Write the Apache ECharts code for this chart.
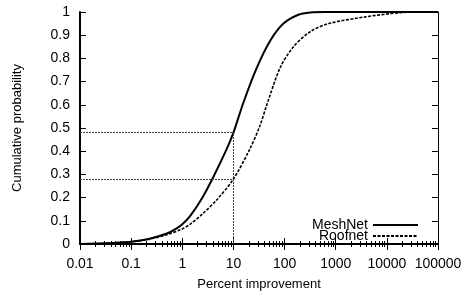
<!DOCTYPE html>
<html lang="en">
  <head>
    <meta charset="UTF-8" />
    <title>CDF of percent improvement</title>
    <script src="https://cdn.jsdelivr.net/npm/echarts@6/dist/echarts.min.js"></script>
  </head>
  <body style="margin: 0">
    <div id="chart" style="width: 471px; height: 296px"></div>
  </body>
  <script>
    // curves: [percent improvement, cumulative probability]
    let meshNet = [
      [0.01, 0], [0.03, 0.003], [0.1, 0.01], [0.23, 0.023], [0.5, 0.045],
      [0.75, 0.065], [1, 0.085], [1.42, 0.12], [2.4, 0.195], [4.07, 0.29],
      [7.4, 0.41], [10, 0.48], [15.7, 0.61], [28.7, 0.76], [52, 0.875],
      [95, 0.95], [186, 0.988], [320, 0.998], [600, 1], [100000, 1],
    ];
    let roofNet = [
      [0.01, 0], [0.03, 0.003], [0.1, 0.01], [0.23, 0.021], [0.5, 0.04],
      [1, 0.065], [1.42, 0.085], [2.5, 0.13], [4.7, 0.19], [10, 0.28],
      [21, 0.41], [33, 0.51], [45, 0.6], [82, 0.76], [149, 0.85],
      [316, 0.915], [725, 0.95], [4070, 0.98], [18000, 0.997], [40000, 1],
      [100000, 1],
    ];
    // dotted guide lines at 10 %
    let guideX = 10;
    let guideY = [0.48, 0.28];
    let xMin = 0.01, xMax = 100000;

    let font = "Liberation Sans";
    let guides = guideY.map((y) => [{ coord: [xMin, y] }, { coord: [guideX, y] }]);
    guides.push([{ coord: [guideX, 0] }, { coord: [guideX, Math.max(...guideY)] }]);

    let xBase = {
      type: "log",
      logBase: 10,
      min: xMin,
      max: xMax,
      splitLine: { show: false },
      axisTick: { inside: true, length: 6, lineStyle: { color: "#000" } },
      minorTick: { show: true, splitNumber: 9, length: 3, lineStyle: { color: "#000" } },
    };
    let yBase = {
      type: "value",
      min: 0,
      max: 1,
      interval: 0.1,
      splitLine: { show: false },
      axisTick: { inside: true, length: 6, lineStyle: { color: "#000" } },
    };

    let chart = echarts.init(document.getElementById("chart"));
    chart.setOption({
      backgroundColor: "#fff",
      animation: false,
      textStyle: { fontFamily: font },
      grid: { left: 80, right: 33, top: 12, bottom: 48 },
      legend: {
        orient: "vertical",
        right: 52,
        top: 218,
        align: "right",
        itemWidth: 45,
        itemHeight: 8,
        itemGap: -3,
        padding: 0,
        itemStyle: { opacity: 0 },
        textStyle: { fontFamily: font, fontSize: 14, color: "#000" },
        data: ["MeshNet", "Roofnet"],
      },
      xAxis: [
        Object.assign({}, xBase, {
          position: "bottom",
          name: "Percent improvement",
          nameLocation: "middle",
          nameGap: 34,
          nameTextStyle: { fontFamily: font, fontSize: 13, color: "#000" },
          axisLine: { lineStyle: { color: "#000", width: 2 } },
          axisLabel: {
            fontFamily: font,
            fontSize: 14,
            color: "#000",
            margin: 13,
            formatter: (v) => String(v),
          },
        }),
        Object.assign({}, xBase, {
          position: "top",
          axisLine: { lineStyle: { color: "#000", width: 1 } },
          axisLabel: { show: false },
        }),
      ],
      yAxis: [
        Object.assign({}, yBase, {
          position: "left",
          name: "Cumulative probability",
          nameLocation: "middle",
          nameGap: 56,
          nameTextStyle: { fontFamily: font, fontSize: 13, color: "#000" },
          axisLine: { show: true, lineStyle: { color: "#000", width: 2 } },
          axisLabel: {
            fontFamily: font,
            fontSize: 14,
            color: "#000",
            margin: 10,
            formatter: (v) => String(Math.round(v * 10) / 10),
          },
        }),
        Object.assign({}, yBase, {
          position: "right",
          axisLine: { show: true, lineStyle: { color: "#000", width: 1 } },
          axisLabel: { show: false },
        }),
      ],
      series: [
        {
          name: "MeshNet",
          type: "line",
          data: meshNet,
          smooth: 0.3,
          symbol: "none",
          lineStyle: { color: "#000", width: 2 },
          itemStyle: { color: "#000" },
          markLine: {
            silent: true,
            symbol: "none",
            label: { show: false },
            lineStyle: { color: "#444", width: 1, type: [2, 1] },
            data: guides,
          },
        },
        {
          name: "Roofnet",
          type: "line",
          data: roofNet,
          smooth: 0.3,
          symbol: "none",
          lineStyle: { color: "#000", width: 1.6, type: [3, 1.5] },
          itemStyle: { color: "#000" },
        },
      ],
    });
  </script>
</html>
